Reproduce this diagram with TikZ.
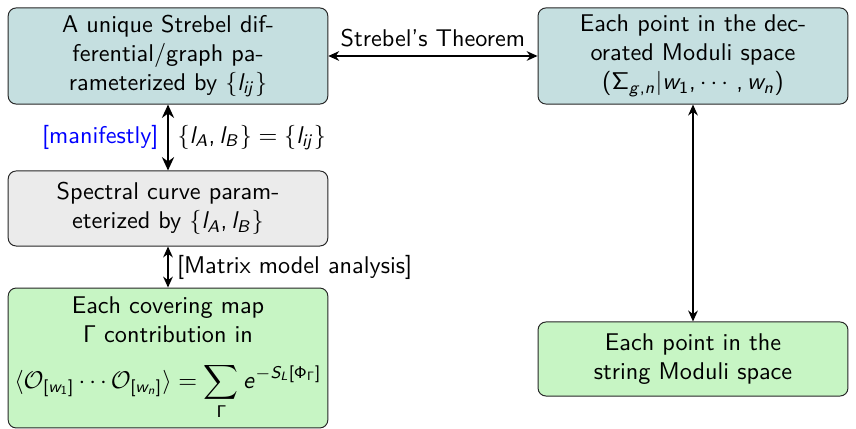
\documentclass[tikz,border=0pt]{standalone}
\usepackage{amsmath}
\usetikzlibrary{arrows.meta}

% sans serif math, as on a slide
\DeclareMathVersion{sansver}
\SetSymbolFont{operators}{sansver}{OT1}{cmss}{m}{n}
\SetSymbolFont{letters}{sansver}{OT1}{cmss}{m}{sl}
\AtBeginDocument{\mathcode`\,="602C}

\definecolor{strebelfill}{RGB}{197,223,224}
\definecolor{spectralfill}{RGB}{235,235,235}
\definecolor{stringfill}{RGB}{199,245,196}

\tikzset{
    flowbox/.style={draw=black!85, rounded corners=3.3pt, align=center, inner sep=1pt},
    biarrow/.style={{Stealth[length=4.5pt,width=4pt]}-{Stealth[length=4.5pt,width=4pt]}, semithick},
    boldarrow/.style={{Stealth[length=5.5pt,width=5pt]}-{Stealth[length=5.5pt,width=5pt]}, very thick}
}

\begin{document}
\begin{tikzpicture}[x=0.413pt, y=-0.413pt, font=\sffamily\mathversion{sansver}]
        \useasboundingbox (0,0) rectangle (856,429);
        \node[flowbox, fill=strebelfill, minimum width=132pt, minimum height=39.7pt] (strebel) at (168,56)
            {A unique Strebel dif-\\ferential/graph pa-\\rameterized by $\{l_{ij}\}$};
        \node[flowbox, fill=strebelfill, minimum width=128pt, minimum height=39.7pt] (moduli) at (693,56)
            {Each point in the dec-\\orated Moduli space\\$\left(\Sigma_{g,n}\middle|w_1,\cdots,w_n\right)$};
        \node[flowbox, fill=spectralfill, minimum width=132pt, minimum height=31pt] (spectral) at (168,208.5)
            {Spectral curve param-\\eterized by $\{l_A,l_B\}$};
        \node[flowbox, fill=stringfill, minimum width=132pt, minimum height=57.8pt] (covering) at (168,358)
            {Each covering map\\$\Gamma$ contribution in\\[7pt]
             $\displaystyle\langle\mathcal{O}_{[w_1]}\cdots\mathcal{O}_{[w_n]}\rangle=\sum_{\Gamma}e^{-S_L[\Phi_\Gamma]}$};
        \node[flowbox, fill=stringfill, minimum width=128pt, minimum height=30.6pt] (string) at (693,359)
            {Each point in the\\string Moduli space};

        \draw[biarrow] (strebel) -- node[above] {Strebel's Theorem} (moduli);
        \draw[boldarrow] (strebel) -- node[left, blue] {[manifestly]}
            node[right] {$\{l_A,l_B\}=\{l_{ij}\}$} (spectral);
        \draw[biarrow, thick] (spectral) -- node[right] {[Matrix model analysis]} (covering);
        \draw[biarrow, thick] (moduli) -- (string);
\end{tikzpicture}
\end{document}
